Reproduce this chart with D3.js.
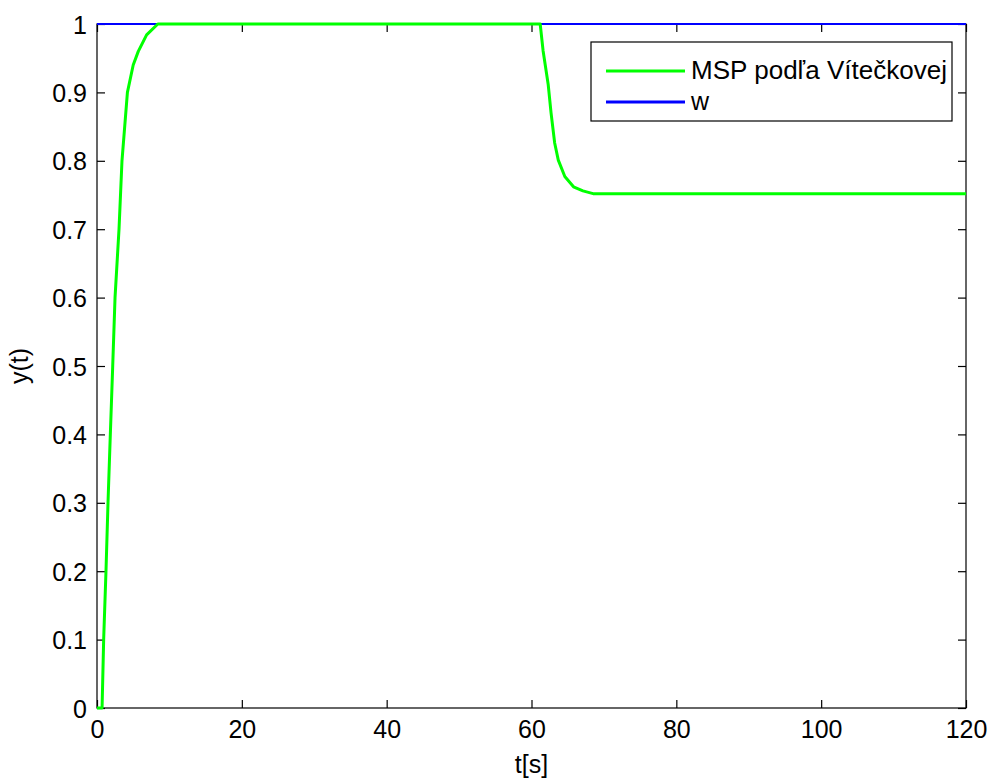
<!DOCTYPE html>
<html>
<head>
<meta charset="utf-8">
<script src="https://cdn.jsdelivr.net/npm/d3@7"></script>
<style>
  html, body { margin: 0; padding: 0; background: #fff; }
  svg { display: block; }
  text { font-family: "Liberation Sans", Arial, sans-serif; fill: #000; }
</style>
</head>
<body>
<svg id="chart" width="990" height="780"></svg>
<script>
// Step response of the loop (MSP tuning by Vítečková) and the set-point w
const mspTime  = [0, 0.7, 0.92, 1.24, 1.52, 1.84, 2.17, 2.49, 3.04, 3.45, 4.2, 5.0, 5.7, 6.85, 8.4,
                  61.2, 61.6, 62.3, 62.7, 63.2, 63.7, 64.6, 65.8, 67.1, 68.5, 120];
const mspValue = [0, 0, 0.1, 0.2, 0.3, 0.4, 0.5, 0.6, 0.7, 0.8, 0.9, 0.94, 0.96, 0.984, 1,
                  1, 0.961, 0.912, 0.87, 0.826, 0.801, 0.777, 0.762, 0.756, 0.752, 0.752];
const wTime    = [0, 120];
const wValue   = [1, 1];

const xTicks = [0, 20, 40, 60, 80, 100, 120];
const yTicks = [0, 0.1, 0.2, 0.3, 0.4, 0.5, 0.6, 0.7, 0.8, 0.9, 1];
const seriesNames = ["MSP podľa Vítečkovej", "w"];
const seriesColors = ["#00ff00", "#0000ff"];
const xTitle = "t[s]";
const yTitle = "y(t)";

const svg = d3.select("#chart");
const plotL = 97, plotR = 966, plotT = 24, plotB = 708;

const x = d3.scaleLinear().domain([0, 120]).range([plotL, plotR]);
const y = d3.scaleLinear().domain([0, 1]).range([plotB, plotT]);

const fmt = v => (v === 0 || v === 1) ? String(v) : d3.format(".1f")(v);
const tickLen = 8;

// axes with inward ticks, mirrored on top and right
const gBottom = svg.append("g").attr("transform", `translate(0,${plotB})`)
  .call(d3.axisBottom(x).tickValues(xTicks).tickSize(-tickLen).tickPadding(12).tickFormat(d3.format("d")));
const gTop = svg.append("g").attr("transform", `translate(0,${plotT})`)
  .call(d3.axisTop(x).tickValues(xTicks).tickSize(-tickLen).tickFormat(""));
const gLeft = svg.append("g").attr("transform", `translate(${plotL},0)`)
  .call(d3.axisLeft(y).tickValues(yTicks).tickSize(-tickLen).tickPadding(10).tickFormat(fmt));
const gRight = svg.append("g").attr("transform", `translate(${plotR},0)`)
  .call(d3.axisRight(y).tickValues(yTicks).tickSize(-tickLen).tickFormat(""));

[gBottom, gTop, gLeft, gRight].forEach(g => {
  g.select(".domain").remove();
  g.selectAll(".tick line").attr("stroke", "#000").attr("stroke-width", 1.2);
  g.selectAll(".tick text").attr("font-size", 25).attr("font-family", "'Liberation Sans', Arial, sans-serif").attr("fill", "#000");
});
gLeft.selectAll(".tick text").attr("dy", "0.36em");

// axes box
svg.append("rect")
  .attr("x", plotL).attr("y", plotT)
  .attr("width", plotR - plotL).attr("height", plotB - plotT)
  .attr("fill", "none").attr("stroke", "#000").attr("stroke-width", 1.2);

// series
const line = d3.line().x(d => x(d[0])).y(d => y(d[1]));
const wData = wTime.map((t, i) => [t, wValue[i]]);
const mspData = mspTime.map((t, i) => [t, mspValue[i]]);

svg.append("path").datum(wData).attr("d", line)
  .attr("fill", "none").attr("stroke", seriesColors[1]).attr("stroke-width", 2);
svg.append("path").datum(mspData).attr("d", line)
  .attr("fill", "none").attr("stroke", seriesColors[0]).attr("stroke-width", 3)
  .attr("stroke-linejoin", "round");

// axis titles
svg.append("text").attr("x", (plotL + plotR) / 2).attr("y", 773)
  .attr("text-anchor", "middle").attr("font-size", 25).text(xTitle);
svg.append("text").attr("transform", `translate(28,${(plotT + plotB) / 2}) rotate(-90)`)
  .attr("text-anchor", "middle").attr("font-size", 25).text(yTitle);

// legend
const legend = svg.append("g");
legend.append("rect").attr("x", 591).attr("y", 42).attr("width", 361).attr("height", 79)
  .attr("fill", "#fff").attr("stroke", "#000").attr("stroke-width", 1.2);
const legRows = [71, 102];
seriesNames.forEach((name, i) => {
  legend.append("line")
    .attr("x1", 606).attr("x2", 685).attr("y1", legRows[i]).attr("y2", legRows[i])
    .attr("stroke", seriesColors[i]).attr("stroke-width", 3);
  const t = legend.append("text").attr("x", 691).attr("y", legRows[i] + 8)
    .attr("font-size", 25).text(name);
  if (i === 0) t.attr("textLength", 256).attr("lengthAdjust", "spacingAndGlyphs");
});
</script>
</body>
</html>
